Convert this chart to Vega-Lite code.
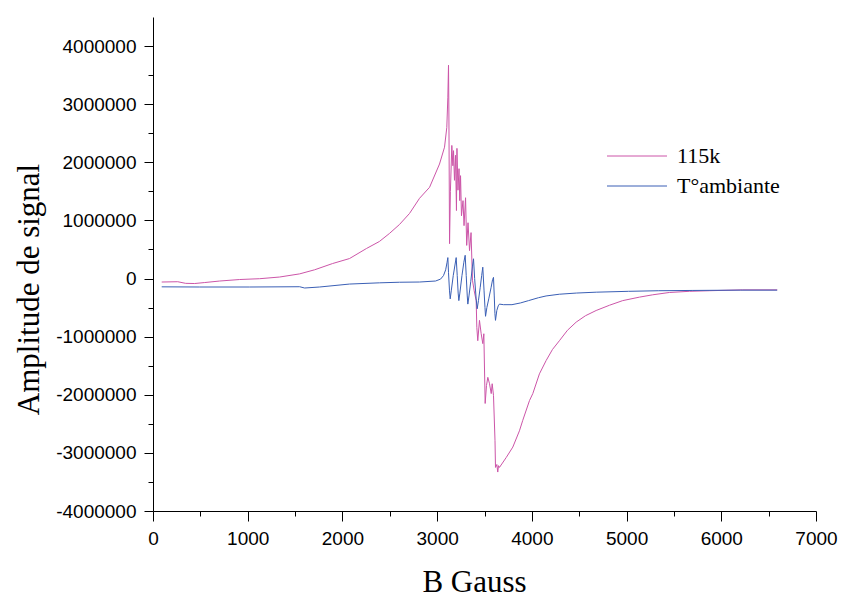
{
  "$schema": "https://vega.github.io/schema/vega-lite/v6.json",
  "autosize": {"type": "none"},
  "width": 663,
  "height": 494,
  "padding": {"left": 153, "top": 17, "right": 25, "bottom": 88},
  "background": "white",
  "config": {"view": {"stroke": null}},
  "data": {"values": [
    {"B":92,"A":-60000,"s":"115k"},{"B":261,"A":-55000,"s":"115k"},{"B":345,"A":-83000,"s":"115k"},{"B":440,"A":-86000,"s":"115k"},{"B":546,"A":-69000,"s":"115k"},{"B":704,"A":-43000,"s":"115k"},{"B":915,"A":-17000,"s":"115k"},{"B":1126,"A":-3000,"s":"115k"},{"B":1337,"A":26000,"s":"115k"},{"B":1548,"A":80000,"s":"115k"},{"B":1706,"A":150000,"s":"115k"},{"B":1896,"A":258000,"s":"115k"},{"B":2075,"A":344000,"s":"115k"},{"B":2253,"A":516000,"s":"115k"},{"B":2390,"A":637000,"s":"115k"},{"B":2496,"A":775000,"s":"115k"},{"B":2602,"A":929000,"s":"115k"},{"B":2708,"A":1119000,"s":"115k"},{"B":2814,"A":1380000,"s":"115k"},{"B":2920,"A":1570000,"s":"115k"},{"B":3025,"A":1970000,"s":"115k"},{"B":3078,"A":2260000,"s":"115k"},{"B":3102,"A":2600000,"s":"115k"},{"B":3113,"A":3120000,"s":"115k"},{"B":3120,"A":3670000,"s":"115k"},{"B":3124,"A":2900000,"s":"115k"},{"B":3131,"A":600000,"s":"115k"},{"B":3140,"A":1500000,"s":"115k"},{"B":3155,"A":2290000,"s":"115k"},{"B":3166,"A":1940000,"s":"115k"},{"B":3173,"A":2200000,"s":"115k"},{"B":3183,"A":1690000,"s":"115k"},{"B":3194,"A":2120000,"s":"115k"},{"B":3204,"A":1170000,"s":"115k"},{"B":3209,"A":2240000,"s":"115k"},{"B":3220,"A":1520000,"s":"115k"},{"B":3231,"A":1890000,"s":"115k"},{"B":3239,"A":1340000,"s":"115k"},{"B":3247,"A":1770000,"s":"115k"},{"B":3257,"A":1080000,"s":"115k"},{"B":3273,"A":1340000,"s":"115k"},{"B":3284,"A":910000,"s":"115k"},{"B":3300,"A":1390000,"s":"115k"},{"B":3312,"A":570000,"s":"115k"},{"B":3326,"A":960000,"s":"115k"},{"B":3342,"A":480000,"s":"115k"},{"B":3358,"A":790000,"s":"115k"},{"B":3373,"A":-30000,"s":"115k"},{"B":3391,"A":-210000,"s":"115k"},{"B":3412,"A":-380000,"s":"115k"},{"B":3419,"A":-840000,"s":"115k"},{"B":3429,"A":-1070000,"s":"115k"},{"B":3447,"A":-720000,"s":"115k"},{"B":3465,"A":-950000,"s":"115k"},{"B":3482,"A":-1120000,"s":"115k"},{"B":3493,"A":-950000,"s":"115k"},{"B":3507,"A":-2150000,"s":"115k"},{"B":3521,"A":-1840000,"s":"115k"},{"B":3535,"A":-1700000,"s":"115k"},{"B":3553,"A":-1810000,"s":"115k"},{"B":3571,"A":-1980000,"s":"115k"},{"B":3581,"A":-1810000,"s":"115k"},{"B":3595,"A":-2010000,"s":"115k"},{"B":3611,"A":-2790000,"s":"115k"},{"B":3616,"A":-3250000,"s":"115k"},{"B":3630,"A":-3200000,"s":"115k"},{"B":3640,"A":-3330000,"s":"115k"},{"B":3648,"A":-3220000,"s":"115k"},{"B":3658,"A":-3250000,"s":"115k"},{"B":3729,"A":-3080000,"s":"115k"},{"B":3799,"A":-2900000,"s":"115k"},{"B":3869,"A":-2620000,"s":"115k"},{"B":3904,"A":-2440000,"s":"115k"},{"B":3975,"A":-2100000,"s":"115k"},{"B":4010,"A":-1980000,"s":"115k"},{"B":4080,"A":-1640000,"s":"115k"},{"B":4151,"A":-1410000,"s":"115k"},{"B":4218,"A":-1220000,"s":"115k"},{"B":4291,"A":-1070000,"s":"115k"},{"B":4376,"A":-890000,"s":"115k"},{"B":4468,"A":-750000,"s":"115k"},{"B":4566,"A":-640000,"s":"115k"},{"B":4679,"A":-550000,"s":"115k"},{"B":4819,"A":-460000,"s":"115k"},{"B":4959,"A":-380000,"s":"115k"},{"B":5136,"A":-320000,"s":"115k"},{"B":5276,"A":-280000,"s":"115k"},{"B":5452,"A":-240000,"s":"115k"},{"B":5663,"A":-220000,"s":"115k"},{"B":5874,"A":-210000,"s":"115k"},{"B":6222,"A":-195000,"s":"115k"},{"B":6591,"A":-195000,"s":"115k"},
    {"B":92,"A":-143000,"s":"T°ambiante"},{"B":493,"A":-146000,"s":"T°ambiante"},{"B":1020,"A":-146000,"s":"T°ambiante"},{"B":1548,"A":-141000,"s":"T°ambiante"},{"B":1601,"A":-163000,"s":"T°ambiante"},{"B":1759,"A":-146000,"s":"T°ambiante"},{"B":2075,"A":-95000,"s":"T°ambiante"},{"B":2390,"A":-74000,"s":"T°ambiante"},{"B":2602,"A":-64000,"s":"T°ambiante"},{"B":2814,"A":-60000,"s":"T°ambiante"},{"B":2983,"A":-43000,"s":"T°ambiante"},{"B":3036,"A":-10000,"s":"T°ambiante"},{"B":3067,"A":50000,"s":"T°ambiante"},{"B":3090,"A":150000,"s":"T°ambiante"},{"B":3105,"A":280000,"s":"T°ambiante"},{"B":3113,"A":360000,"s":"T°ambiante"},{"B":3120,"A":100000,"s":"T°ambiante"},{"B":3130,"A":-200000,"s":"T°ambiante"},{"B":3138,"A":-350000,"s":"T°ambiante"},{"B":3150,"A":-200000,"s":"T°ambiante"},{"B":3170,"A":50000,"s":"T°ambiante"},{"B":3190,"A":250000,"s":"T°ambiante"},{"B":3201,"A":360000,"s":"T°ambiante"},{"B":3212,"A":50000,"s":"T°ambiante"},{"B":3222,"A":-250000,"s":"T°ambiante"},{"B":3229,"A":-380000,"s":"T°ambiante"},{"B":3240,"A":-250000,"s":"T°ambiante"},{"B":3262,"A":50000,"s":"T°ambiante"},{"B":3282,"A":280000,"s":"T°ambiante"},{"B":3296,"A":400000,"s":"T°ambiante"},{"B":3307,"A":50000,"s":"T°ambiante"},{"B":3318,"A":-300000,"s":"T°ambiante"},{"B":3324,"A":-440000,"s":"T°ambiante"},{"B":3336,"A":-300000,"s":"T°ambiante"},{"B":3355,"A":-50000,"s":"T°ambiante"},{"B":3372,"A":200000,"s":"T°ambiante"},{"B":3384,"A":340000,"s":"T°ambiante"},{"B":3396,"A":0,"s":"T°ambiante"},{"B":3412,"A":-350000,"s":"T°ambiante"},{"B":3423,"A":-520000,"s":"T°ambiante"},{"B":3436,"A":-380000,"s":"T°ambiante"},{"B":3455,"A":-150000,"s":"T°ambiante"},{"B":3470,"A":50000,"s":"T°ambiante"},{"B":3482,"A":195000,"s":"T°ambiante"},{"B":3495,"A":-200000,"s":"T°ambiante"},{"B":3505,"A":-500000,"s":"T°ambiante"},{"B":3511,"A":-650000,"s":"T°ambiante"},{"B":3525,"A":-500000,"s":"T°ambiante"},{"B":3545,"A":-350000,"s":"T°ambiante"},{"B":3570,"A":-150000,"s":"T°ambiante"},{"B":3585,"A":-20000,"s":"T°ambiante"},{"B":3595,"A":20000,"s":"T°ambiante"},{"B":3603,"A":-300000,"s":"T°ambiante"},{"B":3610,"A":-600000,"s":"T°ambiante"},{"B":3616,"A":-720000,"s":"T°ambiante"},{"B":3630,"A":-550000,"s":"T°ambiante"},{"B":3645,"A":-470000,"s":"T°ambiante"},{"B":3658,"A":-440000,"s":"T°ambiante"},{"B":3700,"A":-450000,"s":"T°ambiante"},{"B":3790,"A":-450000,"s":"T°ambiante"},{"B":3880,"A":-420000,"s":"T°ambiante"},{"B":3965,"A":-380000,"s":"T°ambiante"},{"B":4070,"A":-330000,"s":"T°ambiante"},{"B":4150,"A":-300000,"s":"T°ambiante"},{"B":4290,"A":-270000,"s":"T°ambiante"},{"B":4470,"A":-250000,"s":"T°ambiante"},{"B":4680,"A":-235000,"s":"T°ambiante"},{"B":5020,"A":-220000,"s":"T°ambiante"},{"B":5340,"A":-210000,"s":"T°ambiante"},{"B":5700,"A":-205000,"s":"T°ambiante"},{"B":6200,"A":-200000,"s":"T°ambiante"},{"B":6590,"A":-200000,"s":"T°ambiante"}
  ]},
  "mark": {"type": "line", "strokeWidth": 1, "interpolate": "linear"},
  "encoding": {
    "x": {
      "field": "B", "type": "quantitative",
      "scale": {"domain": [0, 7000], "nice": false, "zero": false},
      "axis": {
        "title": "B Gauss",
        "values": [0,500,1000,1500,2000,2500,3000,3500,4000,4500,5000,5500,6000,6500,7000],
        "labelExpr": "datum.value % 1000 === 0 ? '' + datum.value : ''",
        "grid": false,
        "domainColor": "black", "domainWidth": 1,
        "tickColor": "black", "tickWidth": 1,
        "tickSize": {"condition": {"test": "datum.value % 1000 === 0", "value": 10}, "value": 5},
        "labelPadding": 8,
        "labelFont": "Liberation Sans", "labelFontSize": 19, "labelColor": "black",
        "labelFlush": false, "labelOverlap": false,
        "titleFont": "Liberation Serif", "titleFontSize": 31, "titleFontWeight": "normal", "titleColor": "black",
        "titleX": 321, "titleY": 80, "titleAlign": "center", "titleBaseline": "alphabetic"
      }
    },
    "y": {
      "field": "A", "type": "quantitative",
      "scale": {"domain": [-4000000, 4500000], "nice": false, "zero": false},
      "axis": {
        "title": "Amplitude de signal",
        "values": [-4000000,-3500000,-3000000,-2500000,-2000000,-1500000,-1000000,-500000,0,500000,1000000,1500000,2000000,2500000,3000000,3500000,4000000],
        "labelExpr": "datum.value % 1000000 === 0 ? '' + datum.value : ''",
        "grid": false,
        "domainColor": "black", "domainWidth": 1,
        "tickColor": "black", "tickWidth": 1,
        "tickSize": {"condition": {"test": "datum.value % 1000000 === 0", "value": 9}, "value": 5},
        "labelPadding": 8,
        "labelFont": "Liberation Sans", "labelFontSize": 19, "labelColor": "black",
        "labelFlush": false, "labelOverlap": false,
        "titleFont": "Liberation Serif", "titleFontSize": 31, "titleFontWeight": "normal", "titleColor": "black",
        "titleX": -115, "titleY": 272, "titleAlign": "center", "titleBaseline": "alphabetic", "titleAngle": -90
      }
    },
    "color": {
      "field": "s", "type": "nominal",
      "scale": {"domain": ["115k", "T°ambiante"], "range": ["#cc55a8", "#3a5fb5"]},
      "legend": {
        "title": null,
        "orient": "none",
        "legendX": 443,
        "legendY": 128,
        "padding": 0,
        "symbolType": "M0,0H12",
        "symbolSize": 100,
        "symbolStrokeWidth": 1,
        "labelFont": "Liberation Serif",
        "labelFontSize": 22,
        "labelColor": "black",
        "labelOffset": 59,
        "rowPadding": 8
      }
    }
  }
}
